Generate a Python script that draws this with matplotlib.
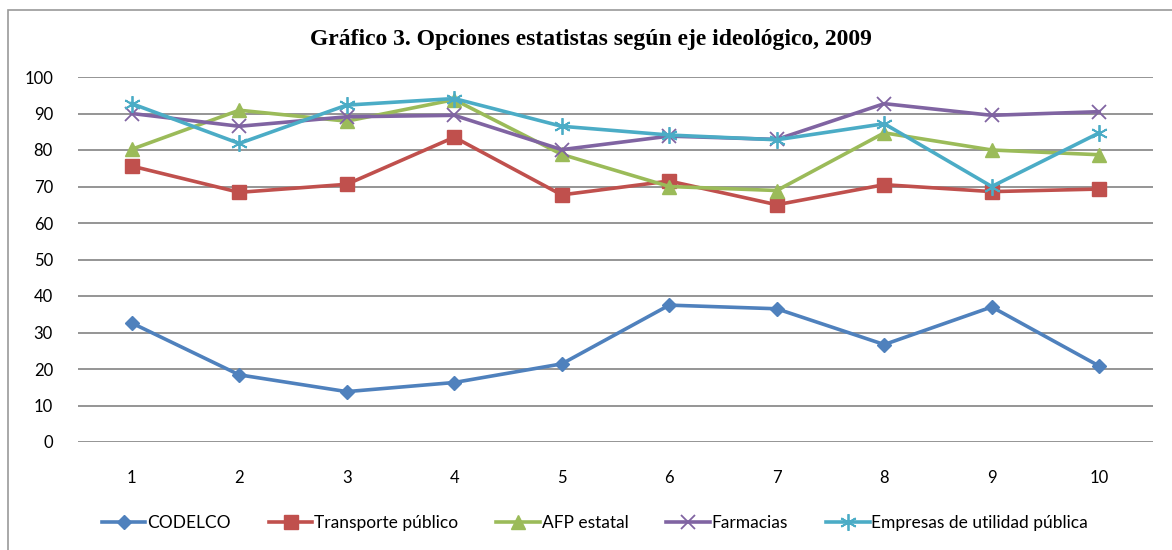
import matplotlib
matplotlib.use('Agg')
import matplotlib.pyplot as plt
from matplotlib.patches import Rectangle

# categorías del eje ideológico
x_labels = ['1', '2', '3', '4', '5', '6', '7', '8', '9', '10']
x = list(range(1, 11))

# series
codelco = [32.6, 18.4, 13.8, 16.3, 21.4, 37.5, 36.5, 26.7, 37.0, 20.8]
transporte = [75.6, 68.4, 70.6, 83.5, 67.7, 71.5, 65.0, 70.5, 68.6, 69.3]
afp = [80.2, 90.9, 87.9, 93.8, 78.8, 70.0, 68.9, 84.7, 80.0, 78.7]
farmacias = [90.0, 86.5, 89.1, 89.5, 80.1, 83.8, 82.9, 92.7, 89.5, 90.5]
empresas = [92.7, 81.8, 92.3, 94.1, 86.5, 84.1, 82.8, 87.2, 70.0, 84.7]

y_ticks = [0, 10, 20, 30, 40, 50, 60, 70, 80, 90, 100]

plt.rcParams['font.family'] = ['Lato', 'DejaVu Sans']

fig = plt.figure(figsize=(11.72, 5.5), dpi=100)
W, H = 1172, 550
ax = fig.add_axes([78 / W, 1 - 442 / H, (1153 - 78) / W, (442 - 77) / H])

# borde exterior
fig.patches.append(Rectangle((8 / W, -0.1), 1.2, 1 - 10 / H + 0.1,
                             transform=fig.transFigure, fill=False,
                             edgecolor='#9a9a9a', linewidth=1.2))

lw = 2.6
ax.plot(x, codelco, color='#4F81BD', marker='D', markersize=7, lw=lw, label='CODELCO')
ax.plot(x, transporte, color='#C0504D', marker='s', markersize=10, lw=lw, label='Transporte público')
ax.plot(x, afp, color='#9BBB59', marker='^', markersize=10, lw=lw, label='AFP estatal')
ax.plot(x, farmacias, color='#8064A2', marker='x', markersize=10, mew=1.3, lw=lw, label='Farmacias')
ax.plot(x, empresas, color='#4BACC6', marker=(6, 2, 0), markersize=12, mew=1.3, lw=lw,
        label='Empresas de utilidad pública')

ax.set_xlim(0.5, 10.5)
ax.set_ylim(0, 100)
ax.set_yticks(y_ticks)
ax.set_xticks(x)
ax.set_xticklabels(x_labels)
ax.grid(axis='y', color='#8c8c8c', linewidth=1.3)
ax.set_axisbelow(True)
for s in ax.spines.values():
    s.set_visible(False)
ax.tick_params(axis='both', length=0, labelsize=12, colors='black')
ax.tick_params(axis='y', pad=18)
ax.tick_params(axis='x', pad=20)

fig.text(591 / W, 1 - 40 / H, 'Gráfico 3. Opciones estatistas según eje ideológico, 2009',
         ha='center', va='center', fontsize=17, fontweight='bold', family='Liberation Serif')

fig.legend(loc='center', bbox_to_anchor=(595 / W, 1 - 523 / H), ncol=5, frameon=False,
           fontsize=12.5, handlelength=2.5, handletextpad=0.1, columnspacing=2.2)

fig.savefig('out.png', dpi=100)
